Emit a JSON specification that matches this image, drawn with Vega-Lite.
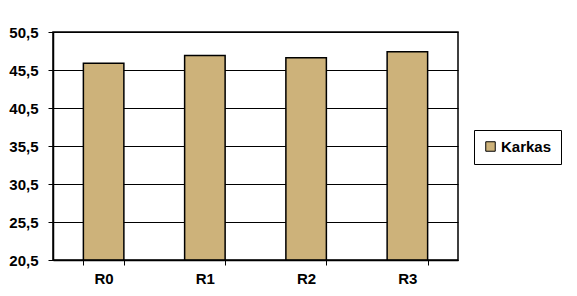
{
  "$schema": "https://vega.github.io/schema/vega-lite/v6.json",
  "width": 405,
  "height": 228,
  "autosize": {"type": "none"},
  "padding": {"left": 53, "top": 32, "right": 119, "bottom": 36},
  "background": "white",
  "config": {
    "view": {"stroke": "black", "strokeWidth": 1.5},
    "font": "Liberation Sans"
  },
  "data": {
    "values": [
      {"grup": "R0", "deger": 46.4, "seri": "Karkas"},
      {"grup": "R1", "deger": 47.4, "seri": "Karkas"},
      {"grup": "R2", "deger": 47.1, "seri": "Karkas"},
      {"grup": "R3", "deger": 47.9, "seri": "Karkas"}
    ]
  },
  "mark": {"type": "bar", "stroke": "black", "strokeWidth": 1.5, "clip": true},
  "encoding": {
    "x": {
      "field": "grup",
      "type": "nominal",
      "title": null,
      "scale": {"paddingInner": 0.6, "paddingOuter": 0.3},
      "axis": {
        "labelAngle": 0,
        "labelFont": "Liberation Sans",
        "labelFontSize": 15,
        "labelFontWeight": "bold",
        "labelColor": "black",
        "labelPadding": 6,
        "tickBand": "extent",
        "tickSize": 5,
        "tickColor": "black",
        "domainColor": "black",
        "domainWidth": 1.5,
        "zindex": 1
      }
    },
    "y": {
      "field": "deger",
      "type": "quantitative",
      "title": null,
      "scale": {"domain": [20.5, 50.5], "nice": false, "zero": false},
      "axis": {
        "values": [20.5, 25.5, 30.5, 35.5, 40.5, 45.5, 50.5],
        "labelExpr": "replace(format(datum.value, '.1f'), '.', ',')",
        "labelFont": "Liberation Sans",
        "labelFontSize": 15,
        "labelFontWeight": "bold",
        "labelColor": "black",
        "labelPadding": 10,
        "tickSize": 5,
        "tickColor": "black",
        "domainColor": "black",
        "domainWidth": 1.5,
        "grid": true,
        "gridColor": "black",
        "gridWidth": 1
      }
    },
    "y2": {"datum": 20.5},
    "fill": {
      "field": "seri",
      "type": "nominal",
      "scale": {"range": ["#cdb27a"]},
      "legend": {
        "title": null,
        "orient": "none",
        "legendX": 421,
        "legendY": 98,
        "strokeColor": "black",
        "padding": 9,
        "symbolType": "square",
        "symbolSize": 90,
        "symbolStrokeColor": "black",
        "symbolStrokeWidth": 1,
        "labelFont": "Liberation Sans",
        "labelFontSize": 15,
        "labelFontWeight": "bold",
        "labelColor": "black",
        "labelOffset": 3
      }
    }
  }
}
